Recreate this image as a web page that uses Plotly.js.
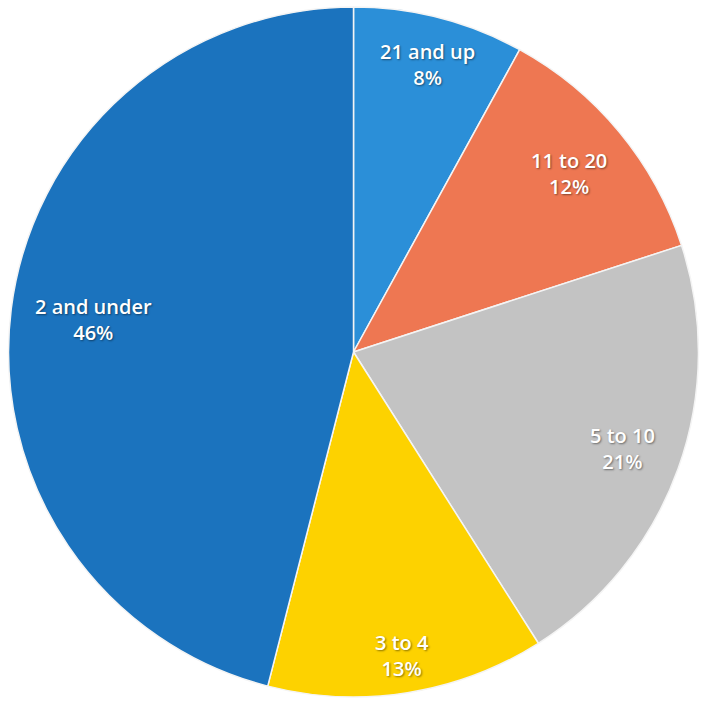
<!DOCTYPE html>
<html>
<head>
<meta charset="utf-8">
<script src="https://cdn.plot.ly/plotly-3.0.1.min.js"></script>
<style>html,body{margin:0;padding:0;background:#fff;}#chart{width:707px;height:704px;}</style>
</head>
<body>
<div id="chart"></div>
<script>
const categories = ["21 and up", "11 to 20", "5 to 10", "3 to 4", "2 and under"];
const percents = [8, 12, 21, 13, 46];
const sliceColors = ["#2b8fd8", "#ee7752", "#c3c3c3", "#fdd200", "#1b73be"];
// label distance from centre as a fraction of the radius (style)
const labelRadius = [0.86, 0.81, 0.83, 0.89, 0.76];

const W = 707, H = 704;
const dom = { x: [0.01, 0.99], y: [0.01, 0.99] };

const trace = {
  type: "pie",
  labels: categories,
  values: percents,
  sort: false,
  direction: "clockwise",
  rotation: 0,
  marker: { colors: sliceColors, line: { color: "#f4f4f4", width: 1.5 } },
  textinfo: "none",
  hoverinfo: "label+percent",
  domain: dom
};

// label placement derived from the data (mid-angle of each slice)
const total = percents.reduce((a, b) => a + b, 0);
const cx = (dom.x[0] + dom.x[1]) / 2 * W;
const cy = (1 - (dom.y[0] + dom.y[1]) / 2) * H;
const R = Math.min((dom.x[1] - dom.x[0]) * W, (dom.y[1] - dom.y[0]) * H) / 2;
let cum = 0;
const annotations = categories.map((c, i) => {
  const mid = (cum + percents[i] / 2) / total * 2 * Math.PI;
  cum += percents[i];
  const r = R * labelRadius[i];
  const px = cx + r * Math.sin(mid);
  const py = cy - r * Math.cos(mid);
  return {
    x: px / W, y: 1 - py / H, xref: "paper", yref: "paper",
    xanchor: "center", yanchor: "middle", showarrow: false,
    text: c + "<br>" + Math.round(percents[i] / total * 100) + "%",
    font: { family: "Open Sans, sans-serif", size: 20, color: "#ffffff", weight: 600,
            shadow: "1px 1px 2px rgba(0,0,0,0.45)" },
    align: "center"
  };
});

const layout = {
  width: W,
  height: H,
  margin: { l: 0, r: 0, t: 0, b: 0 },
  showlegend: false,
  paper_bgcolor: "#ffffff",
  annotations: annotations
};

Plotly.newPlot("chart", [trace], layout, { displayModeBar: false, staticPlot: true });
</script>
</body>
</html>
